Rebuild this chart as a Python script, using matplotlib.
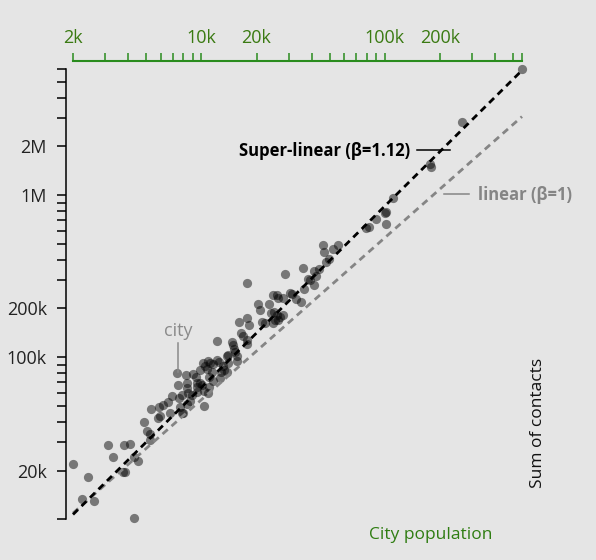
import numpy as np
import matplotlib
matplotlib.use('Agg')
import matplotlib.pyplot as plt
from matplotlib.ticker import FixedLocator, FixedFormatter, NullLocator

plt.rcParams['font.family'] = ['Open Sans', 'DejaVu Sans']

# ---- data ----
population_k = [
    2.0, 2.41, 2.23, 2.61, 4.32, 3.11, 3.29, 3.79, 4.09, 4.30,
    4.54, 3.76, 3.84, 4.88, 5.08, 5.26, 5.26, 5.31, 5.89, 6.22,
    5.79, 5.96, 6.76, 6.91, 7.50, 7.60, 7.83, 7.83, 7.99, 8.51,
    8.88, 10.36, 9.45, 9.85, 8.34, 10.93, 7.41, 8.23, 9.06, 9.37,
    9.85, 10.27, 10.93, 11.17, 12.15, 12.55, 12.15, 10.72, 11.41, 11.07,
    11.56, 11.07, 10.06, 10.36, 9.45, 12.78, 13.10, 12.66, 13.88, 14.67,
    14.85, 14.06, 15.29, 15.73, 15.73, 16.42, 16.97, 17.71, 17.71, 16.14,
    17.84, 18.23, 20.48, 20.92, 21.54, 22.28, 23.52, 23.93, 24.95, 25.80,
    25.80, 26.33, 17.84, 28.64, 30.50, 31.39, 32.89, 35.02, 35.78, 36.50,
    38.38, 39.21, 41.22, 42.27, 41.3, 44.06, 45.96, 46.72, 47.92, 49.94,
    52.51, 55.50, 78.9, 82.2, 89.8, 101.4, 99.6, 101.4, 110.2, 175.3,
    178.4, 263.2, 559, 28.04, 24.73, 26.9, 28.04, 25.26, 24.73, 14.06,
    7.66, 8.37, 8.34, 13.77, 10.49, 11.6, 9.49, 8.69, 13.3, 15.1,
    26.2, 6.59,
]
contacts_k = [
    21.8, 18.3, 13.3, 13.0, 10.2, 28.6, 24.1, 28.6, 29.0, 24.1,
    23.0, 19.7, 19.5, 39.7, 35.0, 33.4, 30.8, 47.7, 49.1, 50.7,
    42.3, 43.4, 45.1, 57.6, 67.4, 55.8, 58.5, 45.1, 45.5, 59.9,
    58.5, 50.0, 69.0, 69.0, 69.0, 59.9, 79.6, 77.7, 78.4, 75.2,
    83.4, 92.5, 95.1, 92.5, 96.1, 93.8, 125.9, 84.2, 81.4, 75.2,
    71.6, 65.8, 67.4, 62.2, 65.8, 81.4, 88.3, 74.1, 81.4, 124.6,
    118.9, 103.2, 108.1, 102.2, 95.1, 140.4, 135.1, 127.7, 120.6, 164.2,
    173.8, 158.0, 212.9, 195.5, 165.6, 161.9, 212.9, 188.2, 190.9, 241.9,
    182.2, 169.6, 288.2, 324.6, 247.9, 244.3, 227.6, 220.0, 356.6, 262.3,
    303.7, 299.5, 340.2, 318.3, 278.9, 348.5, 492.4, 447.6, 384.9, 401.8,
    463.1, 492.4, 624, 639, 712, 790, 772, 661, 956, 1549,
    1497, 2837, 5998, 231.8, 241.9, 177.8, 182.2, 169.6, 161.9, 91.7,
    49.5, 51.4, 64.3, 101.7, 88.3, 90.8, 61.0, 53.7, 83.4, 112.4,
    231.8, 52.9,
]

beta_super = 1.12
prefactor_super = 2.15
beta_linear = 1.0
prefactor_linear = 5.46

x_domain = [2000, 559000]
y_domain = [10000, 6000000]

x_label_ticks = [2000, 10000, 20000, 100000, 200000]
x_label_texts = ['2k', '10k', '20k', '100k', '200k']
y_label_ticks = [20000, 100000, 200000, 1000000, 2000000]
y_label_texts = ['20k', '100k', '200k', '1M', '2M']

label_super = 'Super-linear (\u03b2=1.12)'
label_linear = 'linear (\u03b2=1)'

# ---- styling ----
BG = '#e5e5e5'
GREEN_LINE = '#2a8c1e'
GREEN_TEXT = '#3a7a12'
GRAY_LINE = '#858585'

fig = plt.figure(figsize=(5.96, 5.60), dpi=100, facecolor=BG)
ax = fig.add_axes([73 / 596, 1 - 519.3 / 560, 449 / 596, 450.3 / 560])
ax.set_facecolor(BG)
ax.set_xscale('log')
ax.set_yscale('log')
ax.set_xlim(x_domain)
ax.set_ylim(y_domain)

pop = np.array(population_k) * 1000
con = np.array(contacts_k) * 1000
ax.scatter(pop, con, s=44, c='black', alpha=0.48, linewidths=0,
           clip_on=False, zorder=2)

xs = np.array(x_domain, dtype=float)
ax.plot(xs, prefactor_linear * xs ** beta_linear, color=GRAY_LINE, lw=2.0,
        ls=(0, (2.5, 1.8)), zorder=3, clip_on=False)
ax.plot(xs, prefactor_super * xs ** beta_super, color='black', lw=2.0,
        ls=(0, (2.5, 1.8)), zorder=4, clip_on=False)


def log_ticks(lo, hi):
    t = set()
    for e in range(3, 8):
        for m in range(1, 10):
            v = m * 10 ** e
            if lo <= v <= hi:
                t.add(v)
    t.add(hi)
    return sorted(t)


xt = log_ticks(*x_domain)
yt = log_ticks(*y_domain)
xmap = dict(zip(x_label_ticks, x_label_texts))
ymap = dict(zip(y_label_ticks, y_label_texts))

ax.xaxis.set_major_locator(FixedLocator(xt))
ax.xaxis.set_major_formatter(FixedFormatter([xmap.get(t, '') for t in xt]))
ax.xaxis.set_minor_locator(NullLocator())
ax.yaxis.set_major_locator(FixedLocator(yt))
ax.yaxis.set_major_formatter(FixedFormatter([ymap.get(t, '') for t in yt]))
ax.yaxis.set_minor_locator(NullLocator())

ax.xaxis.tick_top()
ax.tick_params(axis='x', which='major', top=True, bottom=False, direction='out',
               length=5.8, width=1.1, color=GREEN_LINE, labelcolor=GREEN_TEXT,
               labelsize=13, pad=4)
ax.tick_params(axis='y', which='major', left=True, right=False, direction='out',
               length=6.5, width=1.1, color='black', labelcolor='#222222',
               labelsize=13, pad=7)

for s in ['right', 'bottom']:
    ax.spines[s].set_visible(False)
ax.spines['top'].set_position(('outward', 5.8))
ax.spines['top'].set_color(GREEN_LINE)
ax.spines['top'].set_linewidth(1.5)
ax.spines['left'].set_position(('outward', 5.3))
ax.spines['left'].set_color('black')
ax.spines['left'].set_linewidth(1.1)

# annotations
ax.text(0.7506, 0.8186, label_super, transform=ax.transAxes, ha='right',
        va='center', fontsize=12, fontweight='bold', color='black')
ax.plot([0.7668, 0.8396], [0.8201, 0.8201], transform=ax.transAxes,
        color='black', lw=1.1, clip_on=False)
ax.text(0.9027, 0.7202, label_linear, transform=ax.transAxes, ha='left',
        va='center', fontsize=12, fontweight='bold', color=GRAY_LINE)
ax.plot([0.8269, 0.8826], [0.7217, 0.7217], transform=ax.transAxes,
        color=GRAY_LINE, lw=1.1, clip_on=False)
ax.text(0.2339, 0.4188, 'city', transform=ax.transAxes, ha='center',
        va='center', fontsize=13, color='#8a8a8a')
ax.plot([0.2339, 0.2339], [0.3915, 0.3278], transform=ax.transAxes,
        color='#8a8a8a', lw=1.1, clip_on=False)

fig.text(538.3 / 596, 1 - 423 / 560, 'Sum of contacts', rotation=90,
         ha='center', va='center', fontsize=12.5, color='#111111')
fig.text(430.8 / 596, 1 - 535 / 560, 'City population', ha='center',
         va='center', fontsize=12.5, color='#2f7d12')

fig.savefig('out.png', dpi=100, facecolor=BG)
